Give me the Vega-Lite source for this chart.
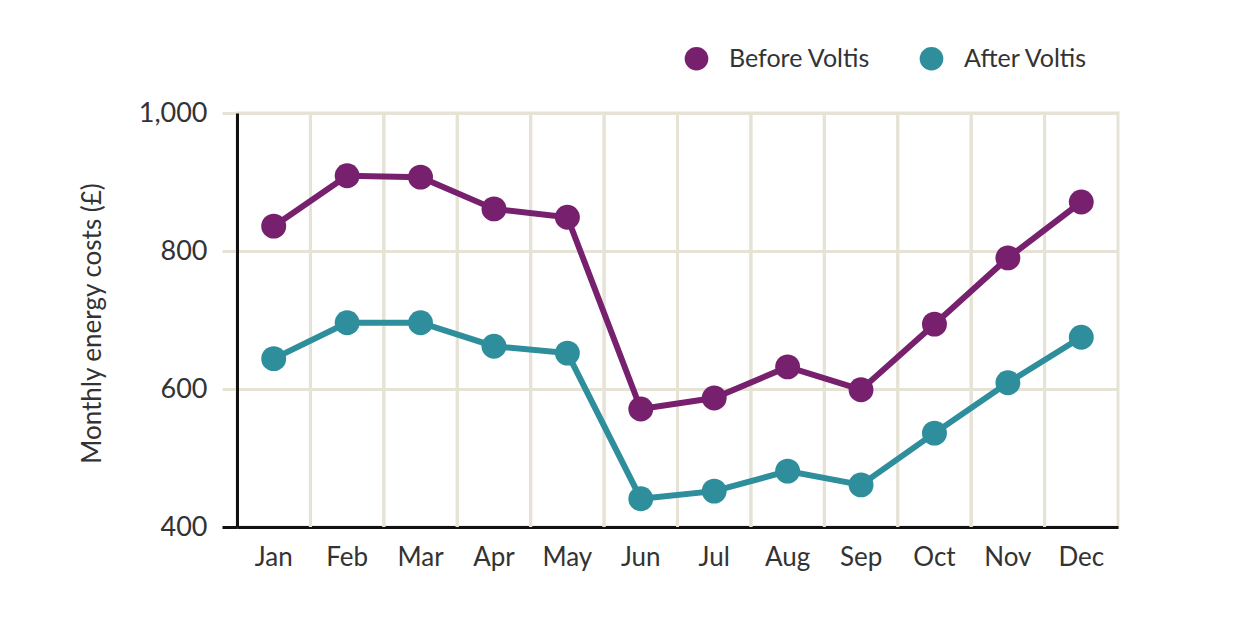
{
  "$schema": "https://vega.github.io/schema/vega-lite/v6.json",
  "width": 881,
  "height": 414,
  "autosize": "none",
  "padding": {"left": 237, "top": 113, "right": 142, "bottom": 103},
  "background": "white",
  "data": {
    "values": [
      {"month": "Jan", "series": "Before Voltis", "cost": 836},
      {"month": "Feb", "series": "Before Voltis", "cost": 909},
      {"month": "Mar", "series": "Before Voltis", "cost": 907},
      {"month": "Apr", "series": "Before Voltis", "cost": 861},
      {"month": "May", "series": "Before Voltis", "cost": 849},
      {"month": "Jun", "series": "Before Voltis", "cost": 571},
      {"month": "Jul", "series": "Before Voltis", "cost": 587},
      {"month": "Aug", "series": "Before Voltis", "cost": 632},
      {"month": "Sep", "series": "Before Voltis", "cost": 599},
      {"month": "Oct", "series": "Before Voltis", "cost": 694},
      {"month": "Nov", "series": "Before Voltis", "cost": 790},
      {"month": "Dec", "series": "Before Voltis", "cost": 871},
      {"month": "Jan", "series": "After Voltis", "cost": 644},
      {"month": "Feb", "series": "After Voltis", "cost": 696},
      {"month": "Mar", "series": "After Voltis", "cost": 696},
      {"month": "Apr", "series": "After Voltis", "cost": 662},
      {"month": "May", "series": "After Voltis", "cost": 652},
      {"month": "Jun", "series": "After Voltis", "cost": 441},
      {"month": "Jul", "series": "After Voltis", "cost": 452},
      {"month": "Aug", "series": "After Voltis", "cost": 481},
      {"month": "Sep", "series": "After Voltis", "cost": 461},
      {"month": "Oct", "series": "After Voltis", "cost": 536},
      {"month": "Nov", "series": "After Voltis", "cost": 609},
      {"month": "Dec", "series": "After Voltis", "cost": 675}
    ]
  },
  "layer": [
    {
      "transform": [{"filter": "datum.month != 'Jan'"}],
      "mark": {"type": "rule", "color": "#e6e2d6", "strokeWidth": 3},
      "encoding": {
        "x": {
          "field": "month",
          "type": "ordinal",
          "bandPosition": 0,
          "scale": {"type": "band", "paddingInner": 0, "paddingOuter": 0, "domain": ["Jan","Feb","Mar","Apr","May","Jun","Jul","Aug","Sep","Oct","Nov","Dec"]},
          "axis": {
            "title": null,
            "labelAngle": 0,
            "ticks": false,
            "grid": false,
            "domainColor": "#111111",
            "domainWidth": 3,
            "labelFont": "Lato",
            "labelFontSize": 26,
            "labelColor": "#333333",
            "labelPadding": 17
          }
        }
      }
    },
    {
      "mark": {"type": "line", "strokeWidth": 6},
      "encoding": {
        "x": {"field": "month", "type": "ordinal", "scale": {"type": "band"}},
        "y": {"field": "cost", "type": "quantitative"},
        "color": {"field": "series", "type": "nominal"}
      }
    },
    {
      "mark": {"type": "circle", "size": 620, "opacity": 1},
      "encoding": {
        "x": {"field": "month", "type": "ordinal", "scale": {"type": "band"}},
        "y": {
          "field": "cost",
          "type": "quantitative",
          "scale": {"domain": [400, 1000], "nice": false, "zero": false},
          "axis": {
            "values": [400, 600, 800, 1000],
            "format": ",.0f",
            "title": "Monthly energy costs (£)",
            "titleFont": "Lato",
            "titleFontSize": 26,
            "titleFontWeight": "normal",
            "titleColor": "#333333",
            "titleX": -145,
            "titleY": 210,
            "titleAlign": "center",
            "titleBaseline": "middle",
            "titleAngle": -90,
            "grid": true,
            "gridColor": "#e6e2d6",
            "gridWidth": 3,
            "domainColor": "#111111",
            "domainWidth": 3,
            "tickSize": 15,
            "tickWidth": 3,
            "tickColor": {"condition": {"test": "datum.value == 400", "value": "#111111"}, "value": "#e6e2d6"},
            "labelFont": "Lato",
            "labelFontSize": 27,
            "labelColor": "#333333",
            "labelPadding": 15
          }
        },
        "color": {
          "field": "series",
          "type": "nominal",
          "scale": {"domain": ["Before Voltis", "After Voltis"], "range": ["#76206e", "#2e8e9c"]},
          "legend": {
            "title": null,
            "orient": "none",
            "legendX": 447,
            "legendY": -67,
            "direction": "horizontal",
            "symbolType": "circle",
            "symbolSize": 560,
            "symbolStrokeWidth": 0,
            "symbolOpacity": 1,
            "labelFont": "Lato",
            "labelFontSize": 25,
            "labelColor": "#333333",
            "labelOffset": 20,
            "columnPadding": 48
          }
        }
      }
    }
  ],
  "config": {
    "view": {"stroke": "#e6e2d6", "strokeWidth": 3}
  }
}
